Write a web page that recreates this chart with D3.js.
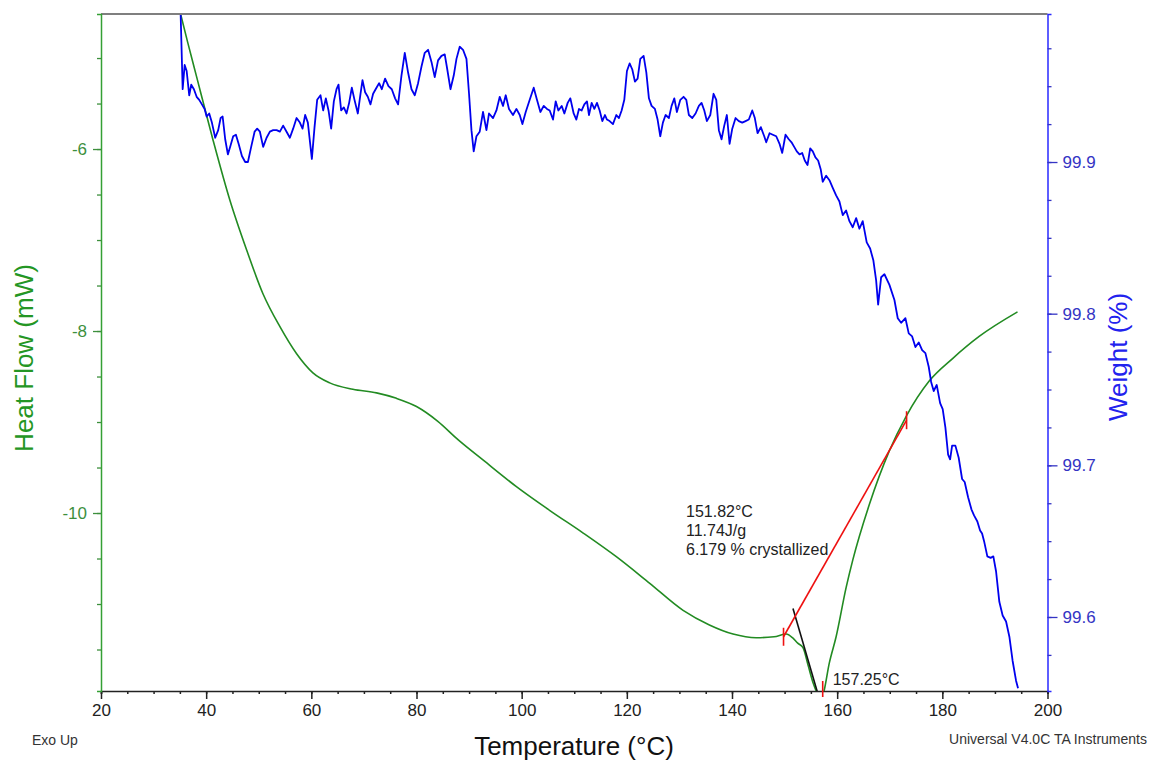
<!DOCTYPE html>
<html>
<head>
<meta charset="utf-8">
<script src="https://cdn.jsdelivr.net/npm/d3@7"></script>
<style>
  body { margin: 0; background: #fff; }
  text { font-family: "Liberation Sans", Arial, sans-serif; }
</style>
</head>
<body>
<div id="chart"></div>
<script>
/* Heat flow curve (green, left axis) */
const hfTemp = [35.2, 36.5, 38.2, 41.3, 44.5, 47.7, 50.8, 54.0, 57.2, 60.3, 63.5, 67.9, 72.4, 76.2, 80.0,
  84.0, 88.0, 92.7, 99.0, 105.3, 111.7, 118.0, 124.3, 130.7, 135.7, 140.2, 144.6, 148.0, 150.3,
  151.5, 152.5, 153.5, 154.5, 155.5, 156.2, 156.9, 157.4, 158.5, 159.8, 161.7, 163.0, 166.1, 169.9,
  173.1, 177.5, 182.0, 187.0, 194.3];
const heatFlow = [-4.53, -4.83, -5.21, -5.90, -6.56, -7.11, -7.59, -7.95, -8.25, -8.46, -8.57, -8.64, -8.68, -8.74, -8.83,
  -8.99, -9.20, -9.42, -9.71, -9.97, -10.22, -10.48, -10.77, -11.07, -11.23, -11.33, -11.37, -11.36, -11.33,
  -11.37, -11.43, -11.48, -11.68, -11.88, -11.98, -12.05, -11.98, -11.65, -11.36, -10.82, -10.51, -9.91, -9.32,
  -8.94, -8.55, -8.30, -8.06, -7.79];

/* Weight curve (blue, right axis) */
const wTemp = [35.15, 35.53, 35.91, 36.29, 36.78, 37.16, 37.67, 38.19, 38.68, 39.19,
  39.71, 40.09, 40.58, 41.09, 41.72, 42.29, 42.75, 43.13, 43.62, 44.13,
  44.65, 45.14, 45.66, 46.17, 46.80, 47.42, 47.94, 48.56, 49.21, 49.70,
  50.22, 50.84, 51.49, 52.12, 52.74, 53.39, 54.02, 54.64, 55.29, 55.92,
  56.54, 57.19, 57.82, 58.33, 58.83, 59.34, 60.10, 60.61, 61.11, 61.75,
  62.25, 62.76, 63.27, 63.77, 64.28, 64.79, 65.17, 65.67, 66.18, 66.69,
  67.19, 67.70, 68.21, 68.84, 69.35, 69.73, 70.23, 70.74, 71.25, 71.75,
  72.39, 72.89, 73.40, 74.03, 74.67, 75.30, 75.93, 76.50, 77.14, 77.77,
  78.40, 79.05, 79.67, 80.30, 80.95, 81.57, 82.20, 82.85, 83.47, 84.10,
  84.75, 85.37, 85.81, 86.46, 87.08, 87.60, 88.22, 88.85, 89.50, 89.99,
  90.45, 90.88, 91.40, 92.02, 92.65, 93.30, 93.79, 94.55, 95.20, 95.83,
  96.45, 96.97, 97.59, 98.35, 99.00, 99.63, 100.14, 100.77, 101.53, 102.29,
  102.91, 103.56, 104.19, 104.81, 105.33, 105.96, 106.47, 106.98, 107.61, 108.12,
  108.75, 109.26, 109.89, 110.40, 110.90, 111.41, 111.92, 112.42, 112.80, 113.31,
  113.82, 114.32, 114.83, 115.34, 115.84, 116.22, 116.73, 117.36, 118.00, 118.50,
  119.01, 119.52, 120.02, 120.53, 121.04, 121.54, 122.05, 122.56, 123.19, 123.71,
  124.20, 124.71, 125.34, 125.85, 126.36, 126.86, 127.37, 128.00, 128.51, 129.03,
  129.52, 130.17, 130.79, 131.31, 131.80, 132.45, 133.07, 133.70, 134.21, 134.73,
  135.22, 135.87, 136.49, 137.01, 137.50, 138.01, 138.53, 139.02, 139.54, 140.05,
  140.68, 141.30, 141.95, 142.58, 143.20, 143.85, 144.34, 144.86, 145.48, 146.13,
  146.51, 147.14, 147.76, 148.41, 149.04, 149.55, 150.18, 150.80, 151.32, 151.83,
  152.32, 152.84, 153.35, 153.84, 154.36, 154.87, 155.36, 155.87, 156.38, 156.88,
  157.26, 157.91, 158.53, 159.16, 159.80, 160.43, 161.06, 161.70, 162.33, 162.96,
  163.61, 164.23, 164.86, 165.62, 166.27, 166.89, 167.41, 167.79, 168.36, 168.99,
  169.94, 170.89, 171.52, 172.16, 172.98, 173.61, 174.26, 174.88, 175.51, 176.16,
  176.78, 177.41, 177.87, 178.36, 178.93, 179.58, 180.07, 180.58, 181.10, 181.48,
  181.86, 182.48, 183.11, 183.76, 184.25, 184.90, 185.53, 186.03, 186.66, 187.18,
  187.56, 187.94, 188.56, 189.19, 189.70, 190.22, 190.84, 191.47, 192.12, 192.75,
  193.37, 194.02, 194.40];
const weight = [99.997, 99.948, 99.964, 99.960, 99.944, 99.951, 99.948, 99.943, 99.941, 99.938,
  99.935, 99.930, 99.932, 99.926, 99.916, 99.921, 99.929, 99.930, 99.915, 99.905,
  99.911, 99.917, 99.918, 99.912, 99.904, 99.900, 99.900, 99.910, 99.920, 99.922,
  99.920, 99.910, 99.916, 99.920, 99.921, 99.921, 99.920, 99.924, 99.920, 99.916,
  99.922, 99.929, 99.926, 99.922, 99.931, 99.926, 99.902, 99.923, 99.941, 99.944,
  99.934, 99.942, 99.934, 99.922, 99.940, 99.948, 99.951, 99.934, 99.936, 99.932,
  99.939, 99.949, 99.941, 99.932, 99.945, 99.954, 99.946, 99.943, 99.938, 99.945,
  99.949, 99.952, 99.948, 99.955, 99.950, 99.948, 99.942, 99.938, 99.957, 99.972,
  99.959, 99.948, 99.944, 99.952, 99.963, 99.972, 99.974, 99.966, 99.956, 99.967,
  99.970, 99.971, 99.962, 99.948, 99.957, 99.968, 99.976, 99.974, 99.968, 99.945,
  99.921, 99.907, 99.917, 99.920, 99.933, 99.921, 99.932, 99.929, 99.934, 99.943,
  99.937, 99.944, 99.935, 99.931, 99.935, 99.931, 99.925, 99.933, 99.941, 99.949,
  99.941, 99.933, 99.937, 99.935, 99.934, 99.928, 99.940, 99.934, 99.937, 99.932,
  99.939, 99.942, 99.932, 99.928, 99.935, 99.934, 99.938, 99.940, 99.931, 99.939,
  99.935, 99.939, 99.934, 99.927, 99.931, 99.928, 99.927, 99.925, 99.931, 99.929,
  99.934, 99.941, 99.960, 99.965, 99.961, 99.953, 99.955, 99.968, 99.970, 99.959,
  99.942, 99.937, 99.935, 99.928, 99.917, 99.926, 99.931, 99.929, 99.937, 99.942,
  99.933, 99.941, 99.943, 99.941, 99.931, 99.929, 99.932, 99.937, 99.939, 99.934,
  99.927, 99.931, 99.945, 99.941, 99.921, 99.915, 99.924, 99.931, 99.912, 99.922,
  99.929, 99.927, 99.926, 99.927, 99.928, 99.934, 99.929, 99.919, 99.923, 99.917,
  99.913, 99.919, 99.918, 99.917, 99.912, 99.906, 99.918, 99.915, 99.913, 99.910,
  99.907, 99.905, 99.906, 99.901, 99.898, 99.909, 99.907, 99.903, 99.901, 99.895,
  99.887, 99.891, 99.888, 99.883, 99.878, 99.874, 99.865, 99.868, 99.861, 99.857,
  99.863, 99.856, 99.861, 99.847, 99.843, 99.835, 99.822, 99.806, 99.824, 99.826,
  99.819, 99.809, 99.797, 99.794, 99.797, 99.787, 99.785, 99.778, 99.781, 99.776,
  99.774, 99.765, 99.755, 99.749, 99.753, 99.741, 99.737, 99.725, 99.707, 99.704,
  99.713, 99.713, 99.705, 99.691, 99.689, 99.679, 99.671, 99.667, 99.663, 99.657,
  99.655, 99.650, 99.640, 99.639, 99.640, 99.630, 99.610, 99.601, 99.597, 99.587,
  99.571, 99.558, 99.553];

/* Peak analysis: baseline (red), onset tangent (black) */
const baselineTemp = [149.8, 173.2];
const baselineHF = [-11.36, -8.98];
const tangentTemp = [151.6, 156.4];
const tangentHF = [-11.05, -12.0];
const peakTemp = 157.25;
const annotation = ["151.82°C", "11.74J/g", "6.179 % crystallized"];
const peakLabel = "157.25°C";

/* Axes ranges and ticks */
const tempDomain = [20, 200];
const hfDomain = [-11.956, -4.516];
const wDomain = [99.5512, 99.9976];
const tempTicks = [20, 40, 60, 80, 100, 120, 140, 160, 180, 200];
const hfTicks = [-6, -8, -10];
const wTicks = [99.9, 99.8, 99.7, 99.6];

const width = 1150;
const height = 761;
const plot = { left: 101, right: 1047.5, top: 14, bottom: 691 };

const green = "#228b22";
const greenAxis = "#34a034";
const greenText = "#3d8f3d";
const blue = "#0000ee";
const blueAxis = "#2a2aff";
const blueText = "#3434c4";

const svg = d3
  .select("#chart")
  .append("svg")
  .attr("width", width)
  .attr("height", height);

/* Scales */
const x = d3.scaleLinear().domain(tempDomain).range([plot.left, plot.right]);
const yHF = d3.scaleLinear().domain(hfDomain).range([plot.bottom, plot.top]);
const yW = d3.scaleLinear().domain(wDomain).range([plot.bottom, plot.top]);

svg
  .append("clipPath")
  .attr("id", "clip")
  .append("rect")
  .attr("x", plot.left)
  .attr("y", plot.top)
  .attr("width", plot.right - plot.left)
  .attr("height", plot.bottom - plot.top);

/* Top frame line */
svg
  .append("line")
  .attr("x1", plot.left)
  .attr("x2", plot.right)
  .attr("y1", plot.top)
  .attr("y2", plot.top)
  .style("stroke", "#555")
  .style("stroke-width", 1.5);

/* Bottom axis */
const minorTemp = d3.range(20, 201, 5);
svg
  .append("g")
  .attr("transform", `translate(0, ${plot.bottom})`)
  .call(d3.axisBottom(x).tickValues(minorTemp).tickSize(3).tickFormat(""))
  .call((g) => g.selectAll("line").style("stroke", "#222").style("stroke-width", 1.5))
  .call((g) => g.select(".domain").style("stroke", "#222").style("stroke-width", 1.5));
svg
  .append("g")
  .attr("transform", `translate(0, ${plot.bottom})`)
  .call(d3.axisBottom(x).tickValues(tempTicks).tickSize(8).tickPadding(5))
  .call((g) => g.select(".domain").remove())
  .call((g) => g.selectAll("line").style("stroke", "#222").style("stroke-width", 1.5))
  .call((g) =>
    g.selectAll("text").style("font-size", "17px").style("fill", "#222")
      .style("font-family", '"Liberation Sans", Arial, sans-serif')
  );

/* Left axis */
const minorHF = d3.range(-11.5, -4.9, 0.5);
svg
  .append("g")
  .attr("transform", `translate(${plot.left}, 0)`)
  .call(d3.axisLeft(yHF).tickValues(minorHF).tickSize(4).tickFormat(""))
  .call((g) => g.selectAll("line").style("stroke", greenText).style("stroke-width", 1.3))
  .call((g) => g.select(".domain").style("stroke", greenAxis).style("stroke-width", 1.5));
svg
  .append("g")
  .attr("transform", `translate(${plot.left}, 0)`)
  .call(d3.axisLeft(yHF).tickValues(hfTicks).tickSize(8).tickPadding(6).tickFormat((d) => String(d)))
  .call((g) => g.select(".domain").remove())
  .call((g) => g.selectAll("line").style("stroke", greenText).style("stroke-width", 1.3))
  .call((g) =>
    g.selectAll("text").style("font-size", "17px").style("fill", greenText)
      .style("font-family", '"Liberation Sans", Arial, sans-serif')
  );

/* Right axis */
const minorW = d3.range(99.575, 99.99, 0.025);
svg
  .append("g")
  .attr("transform", `translate(${plot.right}, 0)`)
  .call(d3.axisRight(yW).tickValues(minorW).tickSize(4).tickFormat(""))
  .call((g) => g.selectAll("line").style("stroke", blueText).style("stroke-width", 1.3))
  .call((g) => g.select(".domain").style("stroke", blueAxis).style("stroke-width", 1.5));
svg
  .append("g")
  .attr("transform", `translate(${plot.right}, 0)`)
  .call(d3.axisRight(yW).tickValues(wTicks).tickSize(10).tickPadding(5).tickFormat(d3.format(".1f")))
  .call((g) => g.select(".domain").remove())
  .call((g) => g.selectAll("line").style("stroke", blueText).style("stroke-width", 1.3))
  .call((g) =>
    g.selectAll("text").style("font-size", "17px").style("fill", blueText)
      .style("font-family", '"Liberation Sans", Arial, sans-serif')
  );

/* Curves */
const curves = svg.append("g").attr("clip-path", "url(#clip)");

const hfLine = d3
  .line()
  .curve(d3.curveMonotoneX)
  .x((d, i) => x(hfTemp[i]))
  .y((d) => yHF(d));

curves
  .append("path")
  .attr("d", hfLine(heatFlow))
  .style("fill", "none")
  .style("stroke", green)
  .style("stroke-width", 1.6);

const wLine = d3
  .line()
  .x((d, i) => x(wTemp[i]))
  .y((d) => yW(d));

curves
  .append("path")
  .attr("d", wLine(weight))
  .style("fill", "none")
  .style("stroke", blue)
  .style("stroke-width", 1.8)
  .style("stroke-linejoin", "round");

/* Analysis lines */
const pairLine = (ts, vs) =>
  d3.line().x((d, i) => x(ts[i])).y((d) => yHF(d))(vs);

curves
  .append("path")
  .attr("d", pairLine(tangentTemp, tangentHF))
  .style("stroke", "#111")
  .style("stroke-width", 1.6);

svg
  .append("path")
  .attr("d", pairLine(baselineTemp, baselineHF))
  .style("stroke", "#ee1111")
  .style("stroke-width", 1.6);

const redTicks = [
  { t: baselineTemp[0], v: baselineHF[0] },
  { t: baselineTemp[1], v: baselineHF[1] },
];
svg
  .selectAll(".red-tick")
  .data(redTicks)
  .enter()
  .append("line")
  .attr("class", "red-tick")
  .attr("x1", (d) => x(d.t))
  .attr("x2", (d) => x(d.t))
  .attr("y1", (d) => yHF(d.v) - 9)
  .attr("y2", (d) => yHF(d.v) + 9)
  .style("stroke", "#ee1111")
  .style("stroke-width", 1.6);

svg
  .append("line")
  .attr("x1", x(peakTemp))
  .attr("x2", x(peakTemp))
  .attr("y1", plot.bottom - 10)
  .attr("y2", plot.bottom + 6)
  .style("stroke", "#ee1111")
  .style("stroke-width", 1.6);

/* Annotation text */
svg
  .append("g")
  .selectAll("text")
  .data(annotation)
  .enter()
  .append("text")
  .attr("x", 686)
  .attr("y", (d, i) => 517 + i * 19)
  .style("font-size", "16px")
  .style("fill", "#222")
  .text((d) => d);

svg
  .append("text")
  .attr("x", x(peakTemp) + 10)
  .attr("y", 685)
  .style("font-size", "16px")
  .style("fill", "#222")
  .text(peakLabel);

/* Axis titles */
svg
  .append("text")
  .attr("transform", "translate(33, 358) rotate(-90)")
  .attr("text-anchor", "middle")
  .style("font-size", "26px")
  .style("fill", "#249624")
  .text("Heat Flow (mW)");

svg
  .append("text")
  .attr("transform", "translate(1127, 357) rotate(-90)")
  .attr("text-anchor", "middle")
  .style("font-size", "26px")
  .style("fill", "#2222ee")
  .text("Weight (%)");

svg
  .append("text")
  .attr("x", 574)
  .attr("y", 755)
  .attr("text-anchor", "middle")
  .style("font-size", "26px")
  .style("fill", "#111")
  .text("Temperature (°C)");

svg
  .append("text")
  .attr("x", 32)
  .attr("y", 745)
  .style("font-size", "14px")
  .style("fill", "#333")
  .text("Exo Up");

svg
  .append("text")
  .attr("x", 1147)
  .attr("y", 744)
  .attr("text-anchor", "end")
  .style("font-size", "14px")
  .style("fill", "#333")
  .text("Universal V4.0C TA Instruments");
</script>
</body>
</html>
